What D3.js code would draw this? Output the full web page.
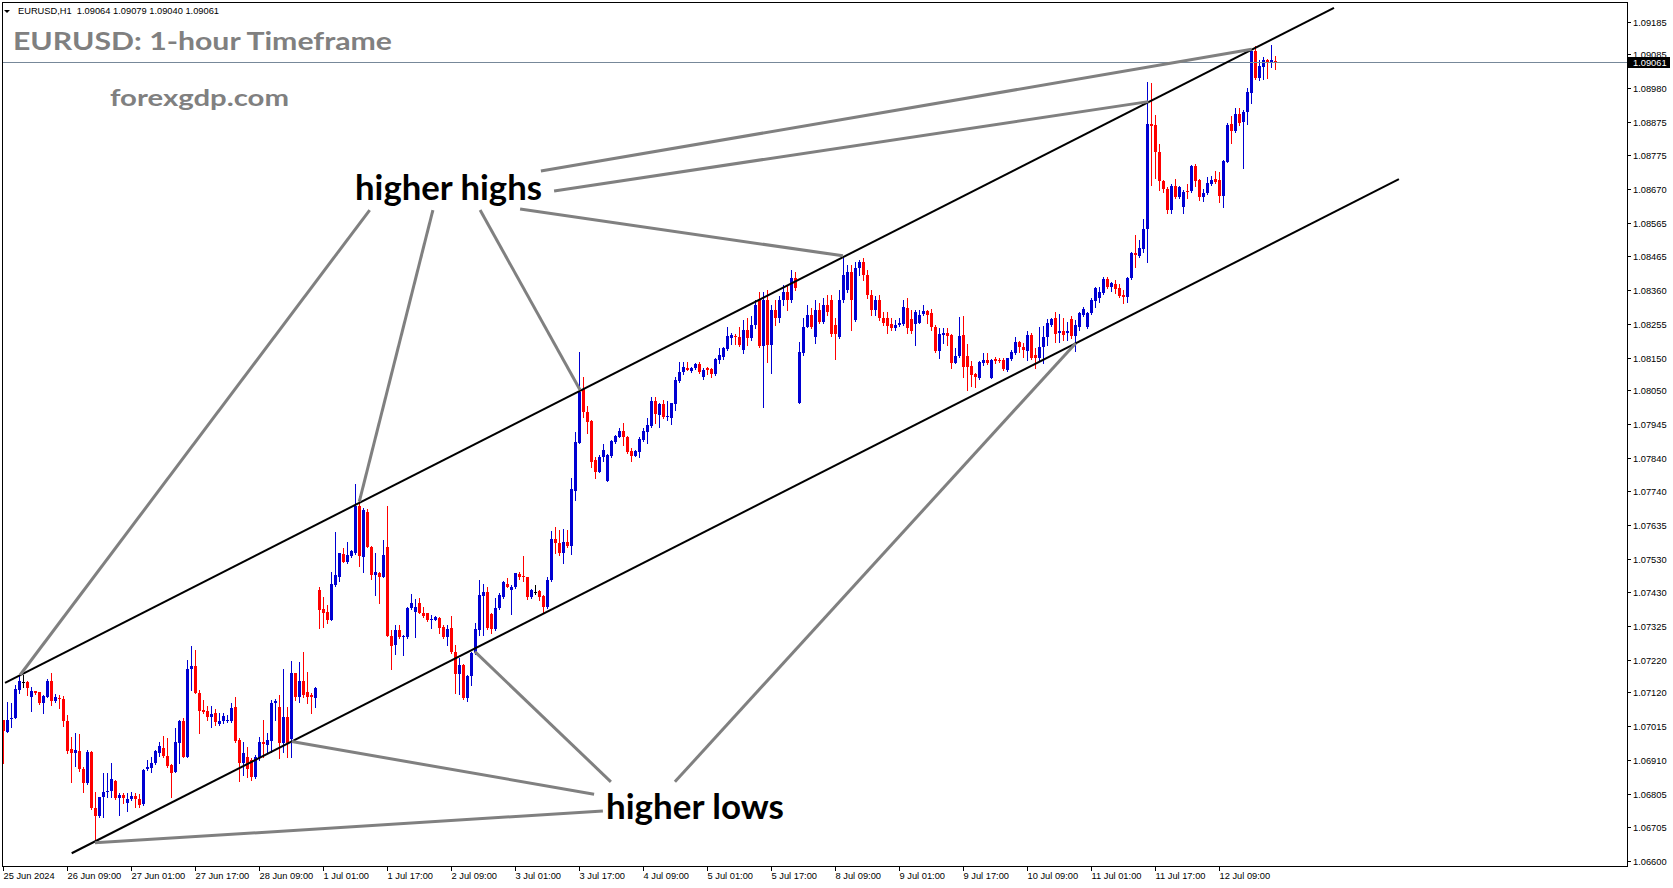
<!DOCTYPE html>
<html><head><meta charset="utf-8">
<script src="https://cdn.jsdelivr.net/npm/d3@7"></script>
<style>html,body{margin:0;padding:0;background:#fff;overflow:hidden}</style>
</head><body>
<svg id="c" width="1673" height="888"></svg>
<script>
// ---------------- DATA (EURUSD H1 candles) ----------------
const openP = [
1.07034,1.06998,1.07037,1.07040,1.07127,1.07152,1.07152,1.07105,1.07124,1.07121,
1.07087,1.07105,1.07155,1.07093,1.07102,1.07099,1.07031,1.06945,1.06933,1.06939,
1.06883,1.06841,1.06936,1.06763,1.06739,1.06797,1.06813,1.06816,1.06847,1.06794,
1.06803,1.06779,1.06791,1.06800,1.06791,1.06776,1.06883,1.06886,1.06902,1.06933,
1.06948,1.06924,1.06896,1.06874,1.06964,1.07031,1.06920,1.07191,1.07201,1.07118,
1.07065,1.07062,1.07044,1.07056,1.07022,1.07031,1.07031,1.07031,1.07074,1.06973,
1.06902,1.06920,1.06911,1.06859,1.06917,1.06967,1.06958,1.06970,1.07087,1.07074,
1.06964,1.07044,1.06976,1.07179,1.07105,1.07155,1.07121,1.07112,1.07102,1.07435,
1.07376,1.07367,1.07342,1.07450,1.07474,1.07546,1.07521,1.07540,1.07549,1.07694,
1.07537,1.07675,1.07567,1.07481,1.07487,1.07475,1.07567,1.07294,1.07266,1.07312,
1.07290,1.07290,1.07379,1.07367,1.07395,1.07364,1.07364,1.07342,1.07342,1.07348,
1.07321,1.07290,1.07318,1.07244,1.07176,1.07204,1.07102,1.07170,1.07241,1.07312,
1.07417,1.07429,1.07361,1.07315,1.07379,1.07413,1.07453,1.07435,1.07444,1.07484,
1.07478,1.07475,1.07413,1.07429,1.07432,1.07417,1.07382,1.07466,1.07592,1.07580,
1.07549,1.07583,1.07570,1.07740,1.07888,1.08054,1.07983,1.07955,1.07835,1.07798,
1.07844,1.07771,1.07848,1.07891,1.07906,1.07925,1.07906,1.07863,1.07848,1.07860,
1.07897,1.07922,1.07940,1.08017,1.07974,1.08008,1.07968,1.07965,1.08008,1.08079,
1.08106,1.08119,1.08109,1.08119,1.08131,1.08091,1.08119,1.08116,1.08100,1.08143,
1.08153,1.08177,1.08211,1.08217,1.08214,1.08174,1.08236,1.08211,1.08251,1.08328,
1.08186,1.08328,1.08189,1.08297,1.08272,1.08328,1.08353,1.08328,1.08396,1.08011,
1.08165,1.08245,1.08282,1.08214,1.08297,1.08260,1.08313,1.08328,1.08251,1.08214,
1.08328,1.08359,1.08414,1.08266,1.08427,1.08445,1.08405,1.08343,1.08297,1.08328,
1.08272,1.08272,1.08254,1.08242,1.08251,1.08254,1.08303,1.08269,1.08254,1.08257,
1.08285,1.08294,1.08288,1.08245,1.08171,1.08220,1.08226,1.08220,1.08134,1.08156,
1.08220,1.08156,1.08125,1.08100,1.08088,1.08134,1.08143,1.08088,1.08146,1.08143,
1.08143,1.08112,1.08146,1.08165,1.08199,1.08183,1.08171,1.08220,1.08159,1.08149,
1.08183,1.08214,1.08251,1.08272,1.08226,1.08233,1.08226,1.08269,1.08217,1.08245,
1.08282,1.08245,1.08288,1.08325,1.08334,1.08350,1.08393,1.08368,1.08377,1.08365,
1.08343,1.08337,1.08396,1.08473,1.08464,1.08485,1.08547,1.08870,1.08867,1.08784,
1.08695,1.08670,1.08605,1.08679,1.08645,1.08614,1.08664,1.08664,1.08741,1.08698,
1.08645,1.08658,1.08685,1.08701,1.08698,1.08648,1.08753,1.08870,1.08849,1.08901,
1.08876,1.08907,1.08966,1.09095,1.09012,1.09046,1.09067,1.09061,1.09064];
const highP = [
1.07034,1.07090,1.07087,1.07143,1.07173,1.07173,1.07155,1.07136,1.07124,1.07121,
1.07112,1.07161,1.07179,1.07115,1.07112,1.07108,1.07050,1.06982,1.06995,1.06992,
1.06889,1.06942,1.06939,1.06813,1.06797,1.06871,1.06871,1.06902,1.06850,1.06810,
1.06810,1.06810,1.06813,1.06810,1.06807,1.06883,1.06911,1.06920,1.06942,1.06967,
1.06985,1.06979,1.06899,1.07010,1.07034,1.07040,1.07219,1.07263,1.07250,1.07127,
1.07096,1.07078,1.07078,1.07068,1.07056,1.07056,1.07050,1.07087,1.07105,1.06979,
1.06967,1.06951,1.06917,1.06927,1.06982,1.07034,1.06995,1.07096,1.07099,1.07112,
1.07191,1.07074,1.07216,1.07179,1.07213,1.07244,1.07182,1.07118,1.07136,1.07444,
1.07413,1.07389,1.07490,1.07614,1.07549,1.07564,1.07583,1.07558,1.07762,1.07725,
1.07687,1.07684,1.07570,1.07549,1.07490,1.07589,1.07694,1.07312,1.07327,1.07327,
1.07297,1.07382,1.07423,1.07407,1.07410,1.07382,1.07364,1.07358,1.07354,1.07351,
1.07327,1.07327,1.07354,1.07266,1.07225,1.07207,1.07173,1.07244,1.07333,1.07466,
1.07453,1.07444,1.07364,1.07410,1.07426,1.07463,1.07472,1.07450,1.07487,1.07490,
1.07540,1.07475,1.07438,1.07450,1.07435,1.07420,1.07475,1.07617,1.07629,1.07620,
1.07623,1.07620,1.07780,1.07922,1.08168,1.08091,1.08002,1.07958,1.07844,1.07850,
1.07884,1.07854,1.07897,1.07912,1.07934,1.07949,1.07909,1.07872,1.07866,1.07906,
1.07934,1.07965,1.08029,1.08029,1.08011,1.08020,1.08017,1.08011,1.08091,1.08137,
1.08137,1.08137,1.08122,1.08134,1.08137,1.08119,1.08122,1.08119,1.08149,1.08180,
1.08183,1.08245,1.08226,1.08223,1.08245,1.08266,1.08272,1.08279,1.08328,1.08353,
1.08353,1.08359,1.08313,1.08328,1.08340,1.08374,1.08374,1.08420,1.08414,1.08199,
1.08272,1.08313,1.08303,1.08328,1.08319,1.08334,1.08343,1.08343,1.08272,1.08359,
1.08457,1.08436,1.08436,1.08445,1.08451,1.08457,1.08420,1.08359,1.08340,1.08343,
1.08291,1.08291,1.08272,1.08266,1.08272,1.08328,1.08334,1.08297,1.08297,1.08297,
1.08313,1.08297,1.08300,1.08251,1.08242,1.08242,1.08242,1.08223,1.08180,1.08276,
1.08279,1.08193,1.08140,1.08103,1.08140,1.08165,1.08165,1.08146,1.08153,1.08149,
1.08149,1.08149,1.08174,1.08214,1.08202,1.08196,1.08232,1.08226,1.08180,1.08245,
1.08248,1.08269,1.08272,1.08291,1.08285,1.08272,1.08260,1.08279,1.08266,1.08291,
1.08306,1.08291,1.08334,1.08368,1.08368,1.08399,1.08399,1.08383,1.08390,1.08377,
1.08359,1.08399,1.08476,1.08528,1.08513,1.08578,1.08999,1.08996,1.08898,1.08808,
1.08698,1.08676,1.08685,1.08701,1.08679,1.08667,1.08685,1.08744,1.08747,1.08701,
1.08670,1.08707,1.08710,1.08725,1.08722,1.08759,1.08873,1.08895,1.08919,1.08919,
1.08913,1.08981,1.09098,1.09110,1.09067,1.09076,1.09070,1.09113,1.09079];
const lowP = [
1.06902,1.06998,1.07012,1.07040,1.07118,1.07136,1.07112,1.07062,1.07115,1.07084,
1.07056,1.07105,1.07081,1.07090,1.07071,1.07016,1.06933,1.06844,1.06893,1.06877,
1.06813,1.06838,1.06760,1.06659,1.06735,1.06735,1.06797,1.06797,1.06791,1.06742,
1.06779,1.06754,1.06788,1.06766,1.06766,1.06773,1.06880,1.06874,1.06899,1.06924,
1.06920,1.06889,1.06797,1.06874,1.06902,1.06920,1.06920,1.07127,1.07118,1.06995,
1.07056,1.07034,1.07013,1.07019,1.07019,1.07025,1.07028,1.07028,1.06967,1.06847,
1.06865,1.06859,1.06850,1.06856,1.06911,1.06920,1.06933,1.06936,1.07034,1.06917,
1.06936,1.06920,1.06920,1.07096,1.07090,1.07105,1.07087,1.07056,1.07074,1.07318,
1.07321,1.07333,1.07342,1.07447,1.07463,1.07521,1.07518,1.07537,1.07546,1.07509,
1.07490,1.07567,1.07469,1.07420,1.07395,1.07475,1.07294,1.07191,1.07238,1.07287,
1.07235,1.07287,1.07376,1.07290,1.07364,1.07351,1.07339,1.07318,1.07342,1.07302,
1.07287,1.07266,1.07241,1.07118,1.07115,1.07099,1.07093,1.07143,1.07238,1.07297,
1.07297,1.07315,1.07302,1.07312,1.07376,1.07410,1.07444,1.07361,1.07441,1.07469,
1.07463,1.07407,1.07410,1.07423,1.07404,1.07364,1.07379,1.07463,1.07549,1.07543,
1.07518,1.07567,1.07546,1.07712,1.07888,1.07968,1.07919,1.07814,1.07780,1.07798,
1.07832,1.07771,1.07844,1.07888,1.07906,1.07881,1.07857,1.07832,1.07848,1.07844,
1.07894,1.07888,1.07937,1.07949,1.07937,1.07965,1.07958,1.07946,1.07989,1.08076,
1.08100,1.08112,1.08106,1.08116,1.08103,1.08085,1.08100,1.08091,1.08097,1.08134,
1.08146,1.08174,1.08193,1.08193,1.08186,1.08165,1.08189,1.08205,1.08242,1.08183,
1.07998,1.08137,1.08103,1.08251,1.08260,1.08313,1.08297,1.08322,1.08359,1.08011,
1.08159,1.08245,1.08242,1.08196,1.08257,1.08257,1.08282,1.08217,1.08146,1.08211,
1.08322,1.08353,1.08236,1.08263,1.08405,1.08390,1.08334,1.08282,1.08282,1.08266,
1.08251,1.08226,1.08236,1.08236,1.08248,1.08251,1.08226,1.08226,1.08189,1.08257,
1.08282,1.08257,1.08236,1.08168,1.08149,1.08196,1.08189,1.08119,1.08134,1.08153,
1.08091,1.08051,1.08063,1.08060,1.08085,1.08128,1.08131,1.08088,1.08134,1.08137,
1.08112,1.08109,1.08143,1.08162,1.08168,1.08153,1.08143,1.08146,1.08119,1.08143,
1.08134,1.08189,1.08248,1.08199,1.08199,1.08205,1.08205,1.08211,1.08171,1.08236,
1.08279,1.08242,1.08285,1.08306,1.08322,1.08347,1.08365,1.08356,1.08350,1.08337,
1.08319,1.08322,1.08393,1.08430,1.08461,1.08476,1.08445,1.08682,1.08704,1.08667,
1.08661,1.08596,1.08596,1.08642,1.08642,1.08596,1.08642,1.08661,1.08679,1.08636,
1.08633,1.08655,1.08682,1.08689,1.08630,1.08614,1.08753,1.08812,1.08845,1.08867,
1.08735,1.08870,1.08935,1.09009,1.09006,1.09009,1.09012,1.09046,1.09040];
const closeP = [
1.07000,1.07034,1.07040,1.07130,1.07155,1.07152,1.07133,1.07124,1.07118,1.07087,
1.07108,1.07155,1.07093,1.07105,1.07099,1.07031,1.06939,1.06933,1.06942,1.06883,
1.06841,1.06936,1.06763,1.06739,1.06797,1.06813,1.06816,1.06853,1.06794,1.06803,
1.06794,1.06791,1.06800,1.06791,1.06773,1.06880,1.06889,1.06902,1.06939,1.06955,
1.06924,1.06893,1.06871,1.06967,1.07031,1.06920,1.07191,1.07201,1.07118,1.07062,
1.07059,1.07044,1.07053,1.07028,1.07031,1.07047,1.07034,1.07071,1.06970,1.06902,
1.06933,1.06883,1.06859,1.06920,1.06967,1.06961,1.06973,1.07087,1.07093,1.06964,
1.07044,1.06964,1.07179,1.07105,1.07155,1.07112,1.07105,1.07105,1.07133,1.07373,
1.07363,1.07342,1.07453,1.07481,1.07549,1.07521,1.07543,1.07555,1.07694,1.07540,
1.07681,1.07567,1.07481,1.07490,1.07475,1.07543,1.07294,1.07263,1.07312,1.07290,
1.07294,1.07379,1.07395,1.07382,1.07364,1.07354,1.07342,1.07345,1.07351,1.07318,
1.07290,1.07315,1.07244,1.07176,1.07204,1.07102,1.07170,1.07241,1.07315,1.07420,
1.07429,1.07318,1.07315,1.07379,1.07420,1.07460,1.07444,1.07444,1.07487,1.07475,
1.07475,1.07413,1.07435,1.07429,1.07413,1.07382,1.07466,1.07592,1.07580,1.07549,
1.07583,1.07570,1.07746,1.07891,1.08045,1.07983,1.07952,1.07829,1.07798,1.07844,
1.07866,1.07850,1.07894,1.07909,1.07925,1.07906,1.07860,1.07848,1.07863,1.07900,
1.07925,1.07943,1.08017,1.07977,1.08008,1.07968,1.07971,1.08011,1.08082,1.08106,
1.08122,1.08112,1.08119,1.08131,1.08106,1.08112,1.08112,1.08100,1.08146,1.08159,
1.08180,1.08217,1.08220,1.08214,1.08189,1.08236,1.08211,1.08251,1.08313,1.08186,
1.08328,1.08189,1.08297,1.08272,1.08328,1.08353,1.08328,1.08396,1.08365,1.08168,
1.08245,1.08282,1.08245,1.08297,1.08260,1.08313,1.08291,1.08223,1.08223,1.08328,
1.08405,1.08414,1.08328,1.08427,1.08445,1.08405,1.08343,1.08297,1.08328,1.08272,
1.08257,1.08248,1.08242,1.08251,1.08257,1.08306,1.08242,1.08233,1.08291,1.08282,
1.08294,1.08282,1.08245,1.08171,1.08223,1.08226,1.08217,1.08134,1.08156,1.08217,
1.08122,1.08122,1.08097,1.08091,1.08137,1.08143,1.08134,1.08143,1.08140,1.08140,
1.08116,1.08149,1.08168,1.08199,1.08183,1.08174,1.08220,1.08149,1.08149,1.08183,
1.08214,1.08257,1.08269,1.08223,1.08233,1.08220,1.08233,1.08217,1.08251,1.08288,
1.08300,1.08288,1.08328,1.08365,1.08353,1.08393,1.08368,1.08380,1.08362,1.08340,
1.08337,1.08396,1.08473,1.08467,1.08488,1.08547,1.08870,1.08864,1.08784,1.08695,
1.08670,1.08605,1.08679,1.08645,1.08676,1.08661,1.08661,1.08741,1.08695,1.08645,
1.08658,1.08689,1.08698,1.08692,1.08648,1.08756,1.08867,1.08849,1.08901,1.08873,
1.08907,1.08969,1.09095,1.09012,1.09049,1.09067,1.09061,1.09067,1.09061];

const yTickLabels = ["1.09185","1.09085","1.08980","1.08875","1.08775","1.08670","1.08565","1.08465",
  "1.08360","1.08255","1.08150","1.08050","1.07945","1.07840","1.07740","1.07635","1.07530","1.07430",
  "1.07325","1.07220","1.07120","1.07015","1.06910","1.06805","1.06705","1.06600"];
const xTickBars = [0,16,32,48,64,80,96,112,128,144,160,176,192,208,224,240,256,272,288,304];
const xTickLabels = ["25 Jun 2024","26 Jun 09:00","27 Jun 01:00","27 Jun 17:00","28 Jun 09:00",
  "1 Jul 01:00","1 Jul 17:00","2 Jul 09:00","3 Jul 01:00","3 Jul 17:00","4 Jul 09:00","5 Jul 01:00",
  "5 Jul 17:00","8 Jul 09:00","9 Jul 01:00","9 Jul 17:00","10 Jul 09:00","11 Jul 01:00","11 Jul 17:00","12 Jul 09:00"];
const lastPrice = 1.09061;
const headerText = "EURUSD,H1  1.09064 1.09079 1.09040 1.09061";
const titleText = "EURUSD: 1-hour Timeframe";
const siteText = "forexgdp.com";

// channel lines: [bar index, price] pairs
const upperChannel = [[0.43, 1.07149], [332.67, 1.09228]];
const lowerChannel = [[17.1, 1.06624], [348.9, 1.08700]];
// annotation pointers: [bar index, price] -> [bar index, price]
const highsLinks = [
  [[91.6,1.08605],[4.2,1.07173]],
  [[107.4,1.08605],[89.0,1.07707]],
  [[119.2,1.08605],[144.2,1.08051]],
  [[129.2,1.08608],[209.9,1.08464]],
  [[134.4,1.08725],[312.1,1.09100]],
  [[137.7,1.08664],[286.25,1.08939]]];
const lowsLinks = [
  [[149.9,1.06754],[22.9,1.06656]],
  [[147.7,1.06806],[72.1,1.06968]],
  [[151.9,1.06844],[117.9,1.07245]],
  [[167.9,1.06844],[268.1,1.08195]]];

// ---------------- DRAWING ----------------
const W = 1673, H = 888;
const PL = 3, PT = 3, PR = 1627, PB = 866;
const svg = d3.select('#c');
svg.append('rect').attr('width', W).attr('height', H).attr('fill', '#fff');

const x = d3.scaleLinear().domain([0, 318]).range([3.3, 1275.3]);
const y = d3.scaleLinear().domain([1.06600, 1.09185]).range([861.04, 21.75]);

svg.append('defs').append('clipPath').attr('id', 'pc')
  .append('rect').attr('x', PL).attr('y', PT).attr('width', PR - PL).attr('height', PB - PT);
const g = svg.append('g').attr('clip-path', 'url(#pc)');

const candles = openP.map((o, i) => ({i, o, h: highP[i], l: lowP[i], c: closeP[i]}));
const col = d => d.c > d.o ? '#0000D2' : (d.c < d.o ? '#FF0000' : '#000000');
const R = v => Math.round(v);

g.selectAll('rect.wick').data(candles).join('rect').attr('class', 'wick')
  .attr('x', d => R(x(d.i)))
  .attr('y', d => R(y(d.h)))
  .attr('width', 1)
  .attr('height', d => Math.max(1, R(y(d.l)) - R(y(d.h)) + 1))
  .attr('fill', col);
g.selectAll('rect.body').data(candles).join('rect').attr('class', 'body')
  .attr('x', d => R(x(d.i)) - 1)
  .attr('y', d => R(y(Math.max(d.o, d.c))))
  .attr('width', 3)
  .attr('height', d => Math.max(1, R(y(Math.min(d.o, d.c))) - R(y(Math.max(d.o, d.c)))))
  .attr('fill', col);

// last price line
g.append('line').attr('x1', PL).attr('x2', PR)
  .attr('y1', R(y(lastPrice)) + 0.5).attr('y2', R(y(lastPrice)) + 0.5)
  .attr('stroke', '#778899').attr('stroke-width', 1);

// channel lines
[upperChannel, lowerChannel].forEach(p => {
  g.append('line')
    .attr('x1', x(p[0][0])).attr('y1', y(p[0][1]))
    .attr('x2', x(p[1][0])).attr('y2', y(p[1][1]))
    .attr('stroke', '#000').attr('stroke-width', 2);
});
// pointer lines
highsLinks.concat(lowsLinks).forEach(p => {
  g.append('line')
    .attr('x1', x(p[0][0])).attr('y1', y(p[0][1]))
    .attr('x2', x(p[1][0])).attr('y2', y(p[1][1]))
    .attr('stroke', '#808080').attr('stroke-width', 3);
});

// frame
svg.append('rect').attr('x', 2.5).attr('y', 2.5).attr('width', PR - 2).attr('height', PB - 2)
  .attr('fill', 'none').attr('stroke', '#000').attr('stroke-width', 1);

// y axis
const axisFont = 'Liberation Sans, Arial, sans-serif';
yTickLabels.forEach(t => {
  const yy = R(y(+t)) + 0.5;
  svg.append('line').attr('x1', PR).attr('x2', PR + 4).attr('y1', yy).attr('y2', yy)
    .attr('stroke', '#000').attr('stroke-width', 1);
  svg.append('text').attr('x', PR + 6).attr('y', yy).attr('dy', '0.35em')
    .attr('font-family', axisFont).attr('font-size', 9.3).attr('fill', '#000').text(t);
});
// x axis
xTickBars.forEach((b, k) => {
  const xx = R(x(b)) + 0.5;
  svg.append('line').attr('x1', xx).attr('x2', xx).attr('y1', PB + 0.5).attr('y2', PB + 5)
    .attr('stroke', '#000').attr('stroke-width', 1);
  svg.append('text').attr('x', xx).attr('y', 879)
    .attr('font-family', axisFont).attr('font-size', 9.3).attr('fill', '#000').text(xTickLabels[k]);
});

// last price tag
const ly = R(y(lastPrice));
svg.append('rect').attr('x', PR + 1).attr('y', ly - 5).attr('width', 42).attr('height', 11).attr('fill', '#000');
svg.append('text').attr('x', PR + 6).attr('y', ly + 0.5).attr('dy', '0.35em')
  .attr('font-family', axisFont).attr('font-size', 9.3).attr('fill', '#fff').text(lastPrice.toFixed(5));

// header
svg.append('path').attr('d', 'M4,10 L10,10 L7,13 Z').attr('fill', '#000');
svg.append('text').attr('x', 18).attr('y', 14).style('white-space', 'pre')
  .attr('font-family', axisFont).attr('font-size', 9).attr('fill', '#000')
  .attr('textLength', 201).attr('lengthAdjust', 'spacingAndGlyphs').text(headerText);

// titles
svg.append('text').attr('x', 13).attr('y', 50)
  .attr('font-family', 'Lato, Open Sans, sans-serif').attr('font-weight', 700).attr('font-size', 24)
  .attr('fill', '#808080').attr('textLength', 379).attr('lengthAdjust', 'spacingAndGlyphs').text(titleText);
svg.append('text').attr('x', 110).attr('y', 106)
  .attr('font-family', 'Lato, Open Sans, sans-serif').attr('font-weight', 700).attr('font-size', 22)
  .attr('fill', '#808080').attr('textLength', 179).attr('lengthAdjust', 'spacingAndGlyphs').text(siteText);

// annotation labels
svg.append('text').attr('x', 355).attr('y', 200)
  .attr('font-family', 'Lato, Open Sans, sans-serif').attr('font-weight', 700).attr('font-size', 35)
  .attr('fill', '#000').attr('textLength', 187).attr('lengthAdjust', 'spacingAndGlyphs').text('higher highs');
svg.append('text').attr('x', 606).attr('y', 819)
  .attr('font-family', 'Lato, Open Sans, sans-serif').attr('font-weight', 700).attr('font-size', 35)
  .attr('fill', '#000').attr('textLength', 178).attr('lengthAdjust', 'spacingAndGlyphs').text('higher lows');
</script>
</body></html>
